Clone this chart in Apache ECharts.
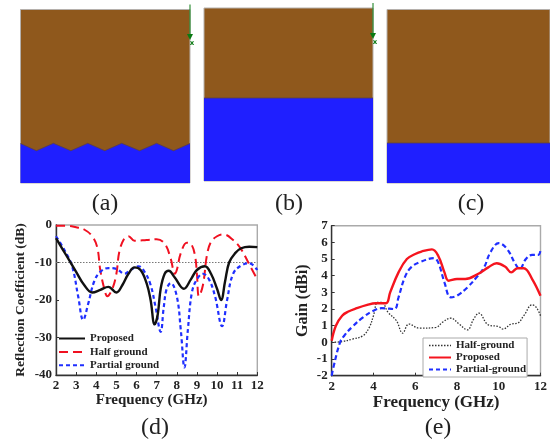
<!DOCTYPE html>
<html><head><meta charset="utf-8">
<style>html,body{margin:0;padding:0;background:#fff}#c{width:550px;height:442px;filter:blur(0.35px)}</style>
<script src="https://cdn.jsdelivr.net/npm/echarts@6/dist/echarts.min.js"></script>
</head><body><div id="c"></div>
<script>
// Schematics: blue ground-plane outlines, in panel units
const groundA=[[0,39.5],[16,32.3],[33,39.7],[50.5,32.3],[67.5,39.7],[84.5,32.3],[101.5,39.7],[119.5,32.3],[136.5,39.7],[153.5,32.3],[170,39.5]];
const groundB=[[0,83],[169,83]];
const groundC=[[0,40],[170,40]];
const arrowA=[[170,178.5],[170,146]];
const arrowB=[[169,178],[169,145]];
// (d) Reflection coefficient
const rcProposed=[[2,-3.5],[2.5,-8],[3,-12.5],[3.4,-16],[3.8,-18],[4.2,-17.3],[4.6,-16.5],[5,-18],[5.3,-16],[5.6,-13],[5.9,-11.3],[6.2,-12],[6.5,-15.5],[6.7,-20],[6.9,-26.5],[7.05,-24],[7.2,-17],[7.4,-13],[7.6,-12.2],[7.9,-14],[8.35,-17],[8.7,-14.5],[9,-12],[9.4,-11],[9.7,-13],[10,-17],[10.2,-20],[10.4,-15],[10.6,-10],[10.9,-7.5],[11.2,-6.2],[11.6,-5.8],[12,-5.9]];
const rcHalf=[[2,-0.2],[2.5,-0.2],[3,-0.6],[3.4,-1.2],[3.8,-3],[4.05,-6],[4.2,-12],[4.4,-17],[4.55,-19],[4.8,-17],[5,-13],[5.15,-7],[5.4,-3.5],[5.6,-3],[5.9,-4.2],[6.5,-4],[7,-3.8],[7.4,-5],[7.7,-9],[7.9,-13],[8,-12],[8.2,-7.5],[8.5,-4.7],[8.7,-5],[8.9,-8],[9,-13],[9.1,-19],[9.3,-16],[9.5,-8],[9.7,-4.5],[10,-3],[10.3,-2.5],[10.8,-4],[11.2,-6.5],[11.6,-10.5],[12,-14.5]];
const rcPartial=[[2,-3],[2.4,-6.5],[2.8,-11],[3.1,-19],[3.35,-25.3],[3.6,-21],[3.9,-15],[4.2,-12.5],[4.6,-11.5],[5,-11.7],[5.4,-13],[5.7,-12],[6.1,-11],[6.4,-12.5],[6.7,-16],[6.95,-22],[7.2,-28.5],[7.35,-22],[7.5,-17],[7.7,-15.5],[8,-19],[8.2,-28],[8.38,-38],[8.55,-28],[8.75,-18],[9,-14.5],[9.3,-13],[9.6,-14.5],[9.9,-19],[10.25,-27],[10.5,-20],[10.8,-13],[11.2,-10.8],[11.6,-10.2],[12,-12]];
const rcThreshold=[[2,-10],[12,-10]];
// (e) Gain
const gainHalf=[[2,0],[2.5,0.05],[3,0.2],[3.5,0.4],[3.8,0.9],[4,1.6],[4.2,2.4],[4.4,2.4],[4.7,1.8],[5.1,1.3],[5.4,0.55],[5.7,1.1],[6.2,0.85],[7,0.9],[7.3,1.2],[7.7,1.45],[8.1,1.1],[8.5,0.75],[8.8,1.4],[9.05,1.75],[9.5,1.05],[10,0.95],[10.2,0.8],[10.6,1.1],[10.9,1.15],[11.2,1.6],[11.6,2.25],[11.8,2.1],[12,1.6]];
const gainProposed=[[2,0.1],[2.2,1],[2.5,1.6],[2.8,1.85],[3.2,2.05],[3.7,2.25],[4.1,2.35],[4.6,2.35],[4.8,3],[5.2,4.2],[5.6,5],[6,5.3],[6.3,5.45],[6.8,5.58],[7.1,5.2],[7.4,4.2],[7.6,3.7],[8,3.8],[8.4,3.8],[9,4.1],[9.5,4.5],[9.9,4.75],[10.3,4.55],[10.6,4.2],[10.9,4.45],[11.2,4.45],[11.6,3.8],[12,2.8]];
const gainPartial=[[2,-2],[2.1,-1.4],[2.4,0],[2.6,0.4],[3,0.95],[3.5,1.5],[4,1.9],[4.4,2.05],[5,2],[5.2,2.7],[5.5,3.9],[5.8,4.5],[6.2,4.8],[6.9,5.05],[7.1,4.8],[7.4,3.6],[7.7,2.7],[8,2.8],[8.5,3.3],[9,4],[9.3,4.5],[9.6,5.4],[10,5.95],[10.4,5.6],[10.8,4.7],[11,4.4],[11.3,5],[11.6,5.25],[11.9,5.25],[12,5.55]];
const captions=['(a)','(b)','(c)','(d)','(e)'];

const SERIF='"Liberation Serif","Times New Roman",serif';
const BROWN='#8f581c',BLUE='#1f1fff',GREEN='#0a7a12';
const panelGrid=(left,top,width,height)=>({left,top,width,height,show:true,backgroundColor:BROWN,borderColor:'#b5b0ac',borderWidth:1});
const hiddenAxis=(gridIndex,max)=>({type:'value',gridIndex,min:0,max,show:false});
const ground=(i,data)=>({type:'line',xAxisIndex:i,yAxisIndex:i,data,showSymbol:false,symbol:'none',silent:true,
  lineStyle:{color:'#5a3f4a',width:0.8},areaStyle:{color:BLUE,opacity:1,origin:'start'},animation:false});
const arrow=(i,data)=>({type:'line',xAxisIndex:i,yAxisIndex:i,data,clip:false,silent:true,z:5,animation:false,
  lineStyle:{color:GREEN,width:1},itemStyle:{color:GREEN},showSymbol:true,showAllSymbol:true,
  symbol:(v,p)=>p.dataIndex===1?'triangle':'none',symbolRotate:180,symbolSize:6,
  label:{show:true,formatter:p=>p.dataIndex===1?'x':'',position:'bottom',distance:0,color:GREEN,fontSize:7,fontWeight:'bold',offset:[2,0],fontFamily:'"DejaVu Sans"'}});
const valAxis=(gridIndex,min,max,interval,name,nameSize,nameGap,namePadding)=>({type:'value',gridIndex,min,max,interval,name,
  nameLocation:'middle',nameGap,nameTextStyle:{fontFamily:SERIF,fontWeight:'bold',fontSize:nameSize,color:'#222',padding:namePadding||0},
  splitLine:{show:false},axisLine:{show:true,onZero:false,lineStyle:{color:'#333',width:1.4}},
  axisTick:{show:true,inside:true,length:3,lineStyle:{color:'#333',width:1}},
  axisLabel:{fontFamily:SERIF,fontWeight:'bold',fontSize:13,color:'#222',margin:4,showMinLabel:true,showMaxLabel:true}});
const curve=(name,i,data,color,type,width)=>({type:'line',name,xAxisIndex:i,yAxisIndex:i,data,smooth:0.4,showSymbol:false,symbol:'none',animation:false,
  lineStyle:{color,type,width},itemStyle:{color}});
const noMark={color:'transparent',borderColor:'transparent',borderWidth:0,opacity:0};
const legendText={fontFamily:SERIF,fontWeight:'bold',fontSize:11,lineHeight:10,color:'#222'};

const option={
  animation:false,
  title:captions.map((text,i)=>({text,left:[105,289,471,155,438][i],top:[192,192,192,416,416][i],textAlign:'center',padding:0,
    textStyle:{fontFamily:SERIF,fontWeight:'normal',fontSize:24,color:'#222'}})),
  grid:[panelGrid(20.5,9.5,169.5,173.5),panelGrid(204,8,169,173),panelGrid(387,9.5,170,173.5),
    {left:56,top:225,width:201.3,height:150,show:true,borderColor:'#aaa',borderWidth:1.4},
    {left:331.7,top:225.7,width:210,height:150,show:true,borderColor:'#aaa',borderWidth:1.4}],
  xAxis:[hiddenAxis(0,170),hiddenAxis(1,169),hiddenAxis(2,170),
    valAxis(3,2,12,1,'Frequency (GHz)',15,11,[0,10,0,0]),valAxis(4,2,12,2,'Frequency (GHz)',17,18)],
  yAxis:[hiddenAxis(0,173.5),hiddenAxis(1,173),hiddenAxis(2,173.5),
    valAxis(3,-40,0,10,'Reflection Coefficient (dB)',13.5,28),valAxis(4,-2,7,1,'Gain (dBi)',16,21)],
  legend:[
    {orient:'vertical',selectedMode:false,textStyle:legendText,left:58,top:333,padding:0,itemWidth:26,itemHeight:9,itemGap:2.4,
      data:[{name:'Proposed',itemStyle:noMark,lineStyle:{color:'#111',type:'solid',width:2}},
            {name:'Half ground',itemStyle:noMark,lineStyle:{color:'#f01020',type:[9,5],width:2}},
            {name:'Partial ground',itemStyle:noMark,lineStyle:{color:'#1f2fff',type:[4,3],width:2}}]},
    {orient:'vertical',selectedMode:false,textStyle:legendText,left:423,top:338,padding:[2,1,2,5],backgroundColor:'#fff',borderColor:'#aaa',borderWidth:1,itemWidth:22,itemHeight:9,itemGap:1,
      data:[{name:'Half-ground',itemStyle:noMark,lineStyle:{color:'#333',type:[1.5,1.5],width:1.3}},
            {name:'Proposed',itemStyle:noMark,lineStyle:{color:'#f5141e',type:'solid',width:2}},
            {name:'Partial-ground',itemStyle:noMark,lineStyle:{color:'#1f2fff',type:[4,3],width:2}}]}
  ],
  series:[
    ground(0,groundA),ground(1,groundB),ground(2,groundC),arrow(0,arrowA),arrow(1,arrowB),
    {type:'line',xAxisIndex:3,yAxisIndex:3,data:rcThreshold,showSymbol:false,symbol:'none',lineStyle:{color:'#777',type:[1.5,1.5],width:1.2},silent:true,animation:false},
    curve('Half ground',3,rcHalf,'#f01020',[9,5],2),
    curve('Partial ground',3,rcPartial,'#1f2fff',[4,3],2.2),
    curve('Proposed',3,rcProposed,'#111','solid',2.4),
    curve('Half-ground',4,gainHalf,'#333',[1.5,1.5],1.3),
    curve('Partial-ground',4,gainPartial,'#1f2fff',[5,3],2.2),
    curve('Proposed',4,gainProposed,'#f5141e','solid',2.4)
  ]
};
echarts.init(document.getElementById('c'),null,{renderer:'canvas'}).setOption(option);
</script></body></html>
